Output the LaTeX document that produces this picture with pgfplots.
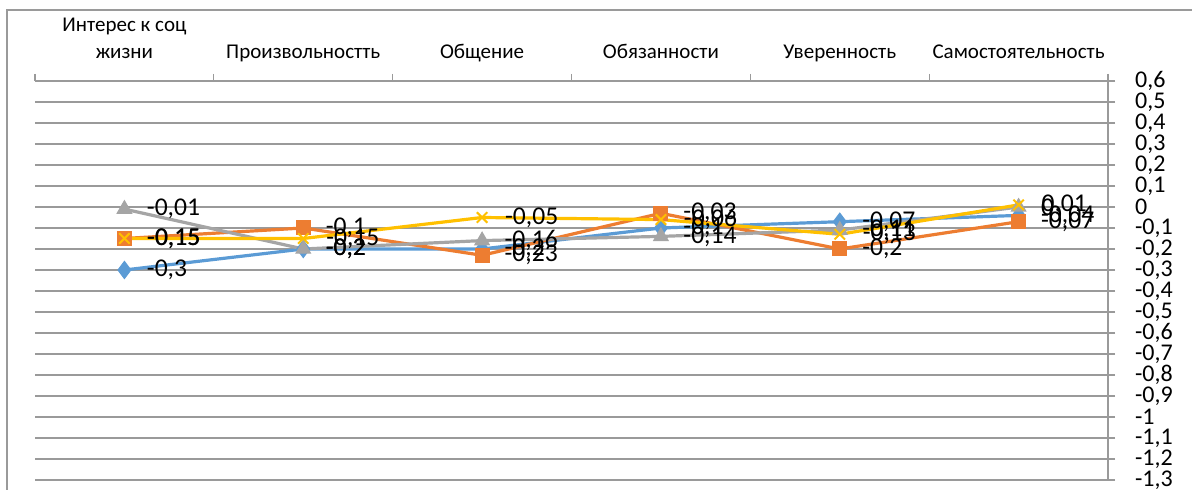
\documentclass[border=0pt]{standalone}
\usepackage{fontspec}
\setmainfont{Carlito}
\usepackage{pgfplots}
\pgfplotsset{compat=1.18}
\definecolor{sBlue}{HTML}{5B9BD5}
\definecolor{sOrange}{HTML}{ED7D31}
\definecolor{sGray}{HTML}{A5A5A5}
\definecolor{sYellow}{HTML}{FFC000}
\definecolor{gridc}{HTML}{9A9A9A}

\begin{document}
\begin{tikzpicture}
\useasboundingbox (0,0) rectangle (596pt,245pt);
% chart area border (only left and top edges are inside the picture)
\draw[gridc, line width=0.6pt] (3.5pt,-20pt) -- (3.5pt,240pt) -- (700pt,240pt);
\begin{axis}[
  at={(17.5pt,5pt)}, anchor=south west,
  scale only axis, width=536.5pt, height=199.5pt,
  xmin=-0.5, xmax=5.5, ymin=-1.3, ymax=0.6,
  axis x line=top, axis y line=right,
  axis line style={-, gridc, line width=0.6pt},
  tick align=outside,
  major tick length=3.5pt,
  tick style={gridc, line width=0.6pt},
  xtick={-0.5,0.5,1.5,2.5,3.5,4.5,5.5},
  x tick label as interval,
  xticklabels={{Интерес к соц\\жизни\strut},{Произвольностть\strut},{Общение\strut},{Обязанности\strut},{Уверенность\strut},{Самостоятельность\strut}},
  xticklabel style={font=\fontsize{10.5}{13.5}\selectfont, align=center, anchor=south, yshift=0pt},
  ytick={-1.3,-1.2,-1.1,-1,-0.9,-0.8,-0.7,-0.6,-0.5,-0.4,-0.3,-0.2,-0.1,0,0.1,0.2,0.3,0.4,0.5,0.6},
  yticklabels={{-1,3},{-1,2},{-1,1},{-1},{-0,9},{-0,8},{-0,7},{-0,6},{-0,5},{-0,4},{-0,3},{-0,2},{-0,1},{0},{0,1},{0,2},{0,3},{0,4},{0,5},{0,6}},
  yticklabel style={font=\fontsize{12}{12}\selectfont, anchor=west, xshift=6.5pt},
  ymajorgrids,
  grid style={gridc, line width=0.6pt},
  clip=false,
  nodes near coords,
  point meta=explicit symbolic,
  nodes near coords style={font=\fontsize{12.8}{12.8}\selectfont, text=black, anchor=west, inner sep=0pt, xshift=11pt},
  every axis plot/.append style={line width=1.6pt},
]
\addplot[sBlue, mark=diamond*, mark size=4.3pt, mark options={solid, fill=sBlue, line width=0.5pt}]
  coordinates {(0,-0.3) [{-0,3}] (1,-0.2) [{-0,2}] (2,-0.2) [{-0,2}] (3,-0.1) [{-0,1}] (4,-0.07) [{-0,07}] (5,-0.04) [{-0,04}]};
\addplot[sOrange, mark=square*, mark size=3.5pt, mark options={solid, fill=sOrange, line width=0.5pt}]
  coordinates {(0,-0.15) [{-0,15}] (1,-0.1) [{-0,1}] (2,-0.23) [{-0,23}] (3,-0.03) [{-0,03}] (4,-0.2) [{-0,2}] (5,-0.07) [{-0,07}]};
\addplot[sGray, mark=triangle*, mark size=4.2pt, mark options={solid, fill=sGray, line width=0.5pt}]
  coordinates {(0,-0.01) [{-0,01}] (1,-0.2) [{-0,2}] (2,-0.16) [{-0,16}] (3,-0.14) [{-0,14}] (4,-0.11) [{-0,11}] (5,0) [{0}]};
\addplot[sYellow, mark=x, mark size=3.7pt, mark options={solid, line width=1pt}]
  coordinates {(0,-0.15) [{-0,15}] (1,-0.15) [{-0,15}] (2,-0.05) [{-0,05}] (3,-0.06) [{-0,06}] (4,-0.13) [{-0,13}] (5,0.01) [{0,01}]};
\end{axis}
\end{tikzpicture}
\end{document}
